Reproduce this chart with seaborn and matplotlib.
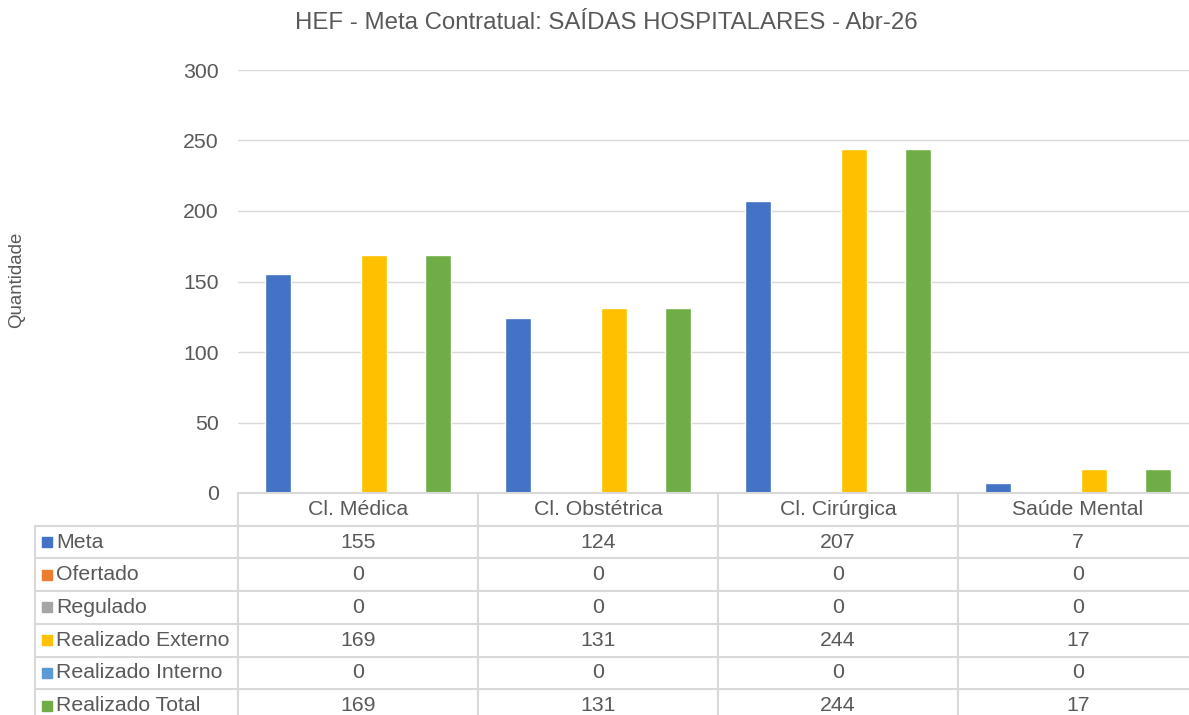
import pandas as pd
import matplotlib.pyplot as plt
import seaborn as sns

categorias = ['Cl. Médica', 'Cl. Obstétrica', 'Cl. Cirúrgica', 'Saúde Mental']
series = ['Meta', 'Ofertado', 'Regulado', 'Realizado Externo', 'Realizado Interno', 'Realizado Total']
meta = [155, 124, 207, 7]
ofertado = [0, 0, 0, 0]
regulado = [0, 0, 0, 0]
realizado_externo = [169, 131, 244, 17]
realizado_interno = [0, 0, 0, 0]
realizado_total = [169, 131, 244, 17]
cores = ['#4472C4', '#ED7D31', '#A5A5A5', '#FFC000', '#5B9BD5', '#70AD47']

valores = [meta, ofertado, regulado, realizado_externo, realizado_interno, realizado_total]
linhas = []
for s, vals in zip(series, valores):
    for c, v in zip(categorias, vals):
        linhas.append({'Categoria': c, 'Serie': s, 'Quantidade': v})
df = pd.DataFrame(linhas)

sns.set_style('white')
plt.rcParams['font.family'] = ['Liberation Sans', 'DejaVu Sans']
cor_texto = '#595959'
cor_linha = '#D9D9D9'
fs = 15.3

W, H = 1189, 715
fig = plt.figure(figsize=(W / 100, H / 100), dpi=100)
ax = fig.add_axes([238 / W, 1 - 493 / H, 960 / W, 423 / H])

sns.barplot(data=df, x='Categoria', y='Quantidade', hue='Serie', order=categorias,
            hue_order=series, palette=cores, saturation=1, width=0.8, gap=0.19,
            legend=False, ax=ax)

ax.set_xlim(-0.5, 3.5)
ax.set_ylim(0, 300)
ax.set_yticks(range(0, 301, 50))
ax.yaxis.grid(True, color=cor_linha, lw=1)
ax.set_axisbelow(True)
for sp in ax.spines.values():
    sp.set_visible(False)
ax.tick_params(axis='y', length=0, pad=13.7, labelsize=fs, labelcolor=cor_texto)
ax.set_xticks([])
ax.set_xlabel('')
ax.set_ylabel('')

# tabela de dados abaixo do eixo
tr = ax.get_xaxis_transform()
rh = 32.7 / 423
x_esq = -0.5 + (35 - 238) / 240
n_lin = len(series) + 1
kw = dict(color=cor_linha, lw=1.5, transform=tr, clip_on=False)
ax.plot([-0.5, 3.5], [0, 0], **kw)
for k in range(1, n_lin + 1):
    ax.plot([x_esq, 3.5], [-k * rh, -k * rh], **kw)
for xb in [-0.5, 0.5, 1.5, 2.5, 3.5]:
    ax.plot([xb, xb], [0, -n_lin * rh], **kw)
ax.plot([x_esq, x_esq], [-rh, -n_lin * rh], **kw)

for j, c in enumerate(categorias):
    ax.text(j, -0.5 * rh, c, transform=tr, ha='center', va='center',
            fontsize=fs, color=cor_texto, clip_on=False)
for i, (s, vals, cor) in enumerate(zip(series, valores, cores)):
    yc = -(i + 1.5) * rh
    ax.plot([x_esq + 11.5 / 240], [yc], marker='s', ms=7.9, color=cor,
            transform=tr, clip_on=False)
    ax.text(x_esq + 21 / 240, yc, s, transform=tr, ha='left', va='center',
            fontsize=fs, color=cor_texto, clip_on=False)
    for j, v in enumerate(vals):
        ax.text(j, yc, str(v), transform=tr, ha='center', va='center',
                fontsize=fs, color=cor_texto, clip_on=False)

fig.text(606 / W, 1 - 23 / H, 'HEF - Meta Contratual: SAÍDAS HOSPITALARES - Abr-26',
         ha='center', va='center', fontsize=17.3, color=cor_texto)
fig.text(17 / W, 1 - 280 / H, 'Quantidade', rotation=90, ha='center', va='center',
         fontsize=13.4, color=cor_texto)

fig.savefig('out.png', dpi=100)
